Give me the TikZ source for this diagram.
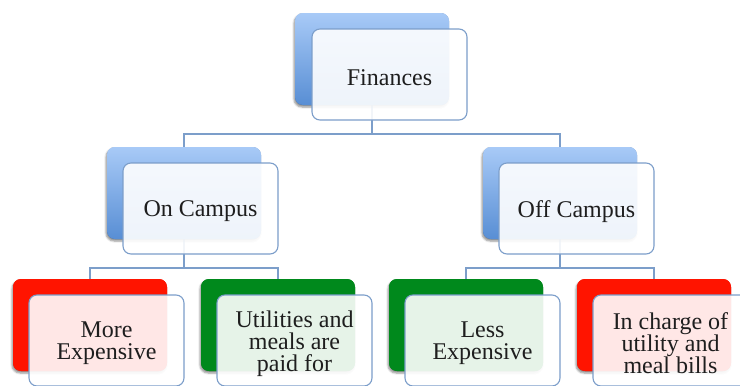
\documentclass[tikz,border=0pt]{standalone}
\usepackage{fontspec}
\setmainfont{Liberation Serif}
\usetikzlibrary{shadows.blur}
\definecolor{lineblue}{RGB}{124,158,202}
\definecolor{bluetop}{RGB}{168,202,247}
\definecolor{bluebot}{RGB}{88,142,212}
\definecolor{boxred}{RGB}{255,20,0}
\definecolor{boxgreen}{RGB}{0,137,28}
\definecolor{txt}{RGB}{30,30,30}
\tikzset{
  backbox/.style={rectangle, rounded corners=8pt, minimum width=154pt, minimum height=92pt, inner sep=0pt,
    blur shadow={shadow xshift=-1pt, shadow yshift=-2pt, shadow blur steps=4, shadow opacity=25}},
  bluebox/.style={backbox, top color=bluetop, bottom color=bluebot},
  redbox/.style={backbox, fill=boxred},
  greenbox/.style={backbox, fill=boxgreen},
  frontbox/.style={rectangle, rounded corners=8pt, minimum width=155pt, minimum height=91pt, inner sep=2pt,
    draw=lineblue, line width=1.1pt, fill=white, fill opacity=0.9},
  lbl/.style={text=txt, align=center, inner sep=0pt, font=\fontspec{Liberation Serif}\fontsize{24}{22}\selectfont},
  conn/.style={draw=lineblue, line width=1.3pt}
}
\begin{document}
\begin{tikzpicture}[x=1pt,y=-1pt]
\useasboundingbox (0,0) rectangle (740,386);
% back boxes (placed first to define names)
\node[bluebox] (Fb) at (372,59) {};
\node[bluebox] (OCb) at (184,193) {};
\node[bluebox] (OFb) at (560,193) {};
\node[redbox] (MEb) at (90,325) {};
\node[greenbox] (Ub) at (278,325) {};
\node[greenbox] (LEb) at (466,325) {};
\node[redbox] (ICb) at (654,325) {};
% connectors
\coordinate (j1) at (372,134);
\coordinate (j2) at (184,268);
\coordinate (j3) at (560,268);
\draw[conn] (Fb.south) -- (j1) -| (OCb.north);
\draw[conn] (j1) -| (OFb.north);
\draw[conn] (OCb.south) -- (j2) -| (MEb.north);
\draw[conn] (j2) -| (Ub.north);
\draw[conn] (OFb.south) -- (j3) -| (LEb.north);
\draw[conn] (j3) -| (ICb.north);
% redraw back boxes above connectors
\node[bluebox] at (Fb) {};
\node[bluebox] at (OCb) {};
\node[bluebox] at (OFb) {};
\node[redbox] at (MEb) {};
\node[greenbox] at (Ub) {};
\node[greenbox] at (LEb) {};
\node[redbox] at (ICb) {};
% front boxes
\node[frontbox] (F) at (389.5,74.5) {};
\node[frontbox] (OC) at (200.5,208.5) {};
\node[frontbox] (OF) at (576.5,208.5) {};
\node[frontbox] (ME) at (106.5,340.5) {};
\node[frontbox] (U) at (294.5,340.5) {};
\node[frontbox] (LE) at (482.5,340.5) {};
\node[frontbox] (IC) at (670.5,340.5) {};
% labels
\node[lbl] (Ft) at ([yshift=-3pt]F.center) {Finances};
\node[lbl] (OCt) at ([yshift=-3pt]OC.center) {On Campus};
\node[lbl] (OFt) at ([yshift=-3pt]OF.center) {Off Campus};
\node[lbl] (MEt) at ([yshift=-3pt]ME.center) {More\\Expensive};
\node[lbl] (Ut) at ([yshift=-3pt]U.center) {Utilities and\\meals are\\paid for};
\node[lbl] (LEt) at ([yshift=-3pt]LE.center) {Less\\Expensive};
\node[lbl] (ICt) at ([yshift=-3pt]IC.center) {In charge of\\utility and\\meal bills};
\end{tikzpicture}
\end{document}
